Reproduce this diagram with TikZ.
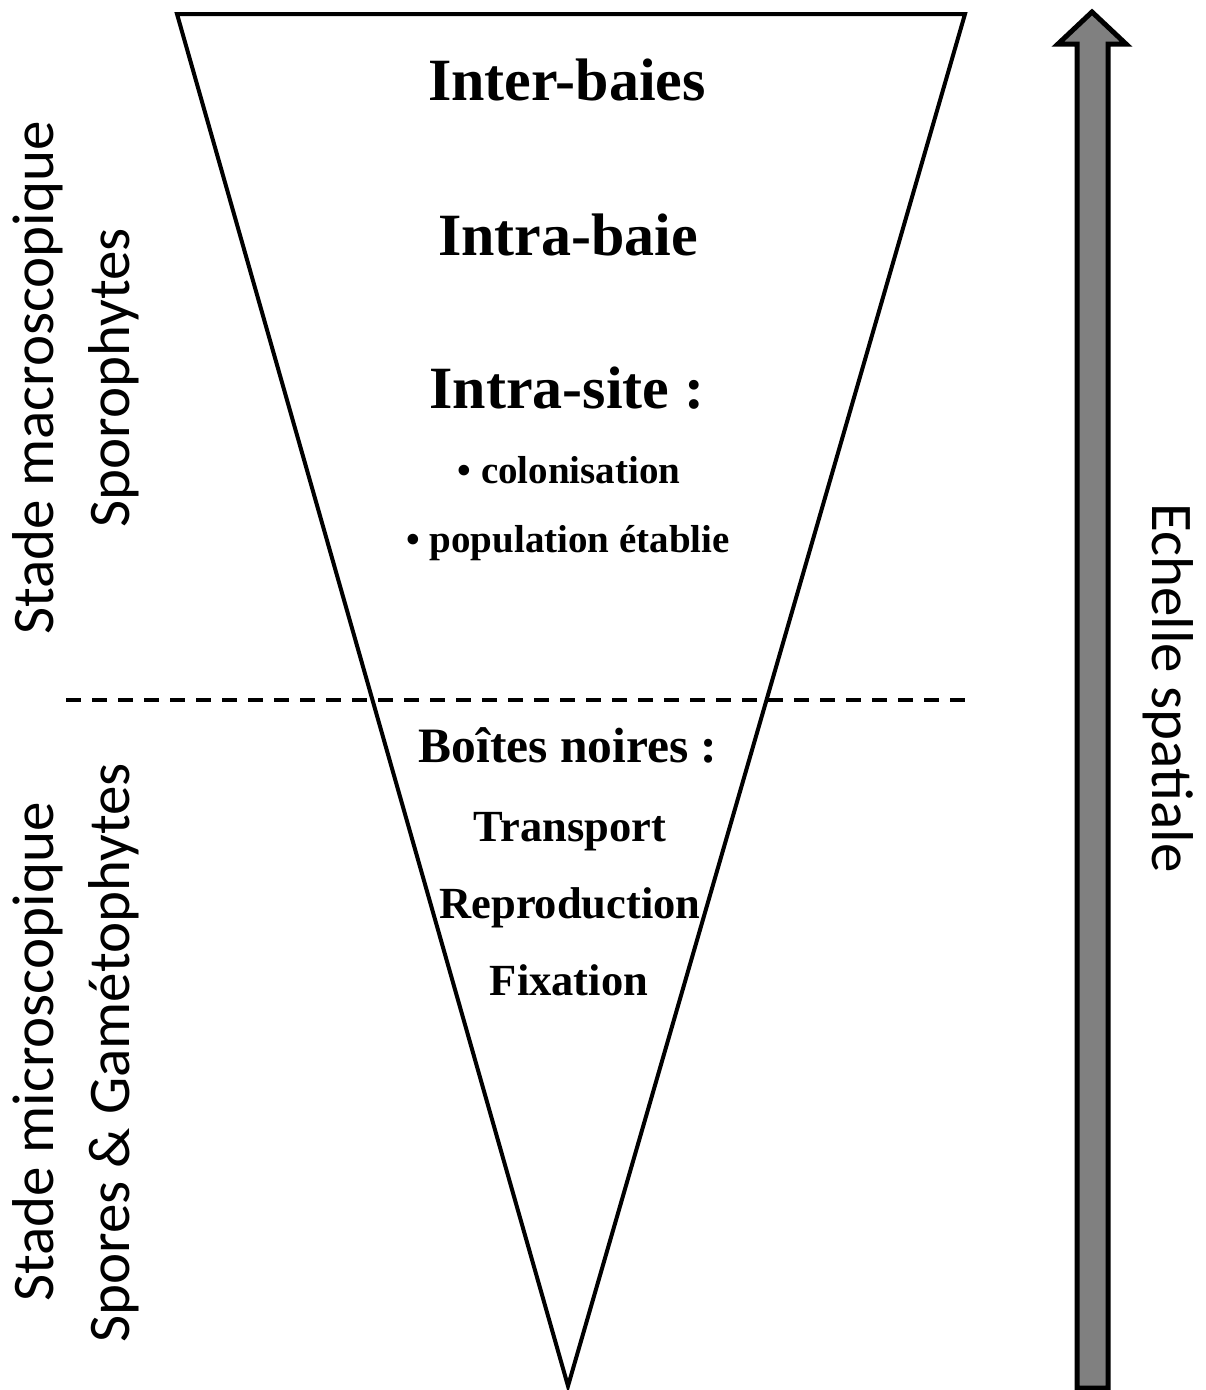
\documentclass[tikz,border=0pt]{standalone}
\usepackage{fontspec}
\setmainfont{Liberation Serif}
\newfontfamily\sidefont{Carlito}
\begin{document}
\begin{tikzpicture}[x=1pt,y=-1pt,
  edge/.style={line width=4pt, line join=miter},
  sep/.style={line width=4pt, dash pattern=on 15pt off 11pt},
  big/.style={font=\fontsize{60}{63}\selectfont\bfseries, anchor=base, inner sep=0pt},
  mid/.style={font=\fontsize{49.5}{52}\selectfont\bfseries, anchor=base, inner sep=0pt},
  item/.style={font=\fontsize{44.5}{47}\selectfont\bfseries, anchor=base, inner sep=0pt},
  small/.style={font=\fontsize{39}{42}\selectfont\bfseries, anchor=base, inner sep=0pt},
  side/.style={font=\sidefont\fontsize{59}{62}\selectfont, anchor=base, inner sep=0pt},
  scalearrow/.style={line width=5pt, fill={rgb,255:red,128;green,128;blue,128}, line join=miter}]
\useasboundingbox (0,0) rectangle (1206,1390);
% triangle
\coordinate (tl) at (177,14);
\coordinate (tr) at (965,14);
\coordinate (bt) at (568,1386);
\draw[edge] (tl) -- (tr) -- (bt) -- cycle;
% dashed separator
\coordinate (dl) at (66,700);
\coordinate (dr) at (975,700);
\draw[sep] (dl) -- (dr);
% spatial scale arrow
\draw[scalearrow] (1077,1388) -- (1077,44) -- (1058,44) -- (1092,12) -- (1126,44) -- (1108,44) -- (1108,1388) -- cycle;
% triangle texts
\node[big] (interbaies) at (567,100) {Inter-baies};
\node[big] (intrabaie) at (568,255) {Intra-baie};
\node[big] (intrasite) at (567,408) {Intra-site :};
\node[small] (colo) at (569,483) {\textbullet\ colonisation};
\node[small] (pop) at (568,552) {\textbullet\ population établie};
\node[mid] (boites) at (568,762) {Boîtes noires :};
\node[item] (transport) at (570,841) {Transport};
\node[item] (repro) at (570,918) {Reproduction};
\node[item] (fix) at (569,995) {Fixation};
% side labels
\node[side, rotate=90] (macro1) at (53,378) {Stade macroscopique};
\node[side, rotate=90] (macro2) at (129,378) {Sporophytes};
\node[side, rotate=90] (micro1) at (53,1052) {Stade microscopique};
\node[side, rotate=90] (micro2) at (129,1053) {Spores \& Gamétophytes};
\node[side, rotate=-90] (echelle) at (1152,688) {Echelle spatiale};
\end{tikzpicture}
\end{document}
